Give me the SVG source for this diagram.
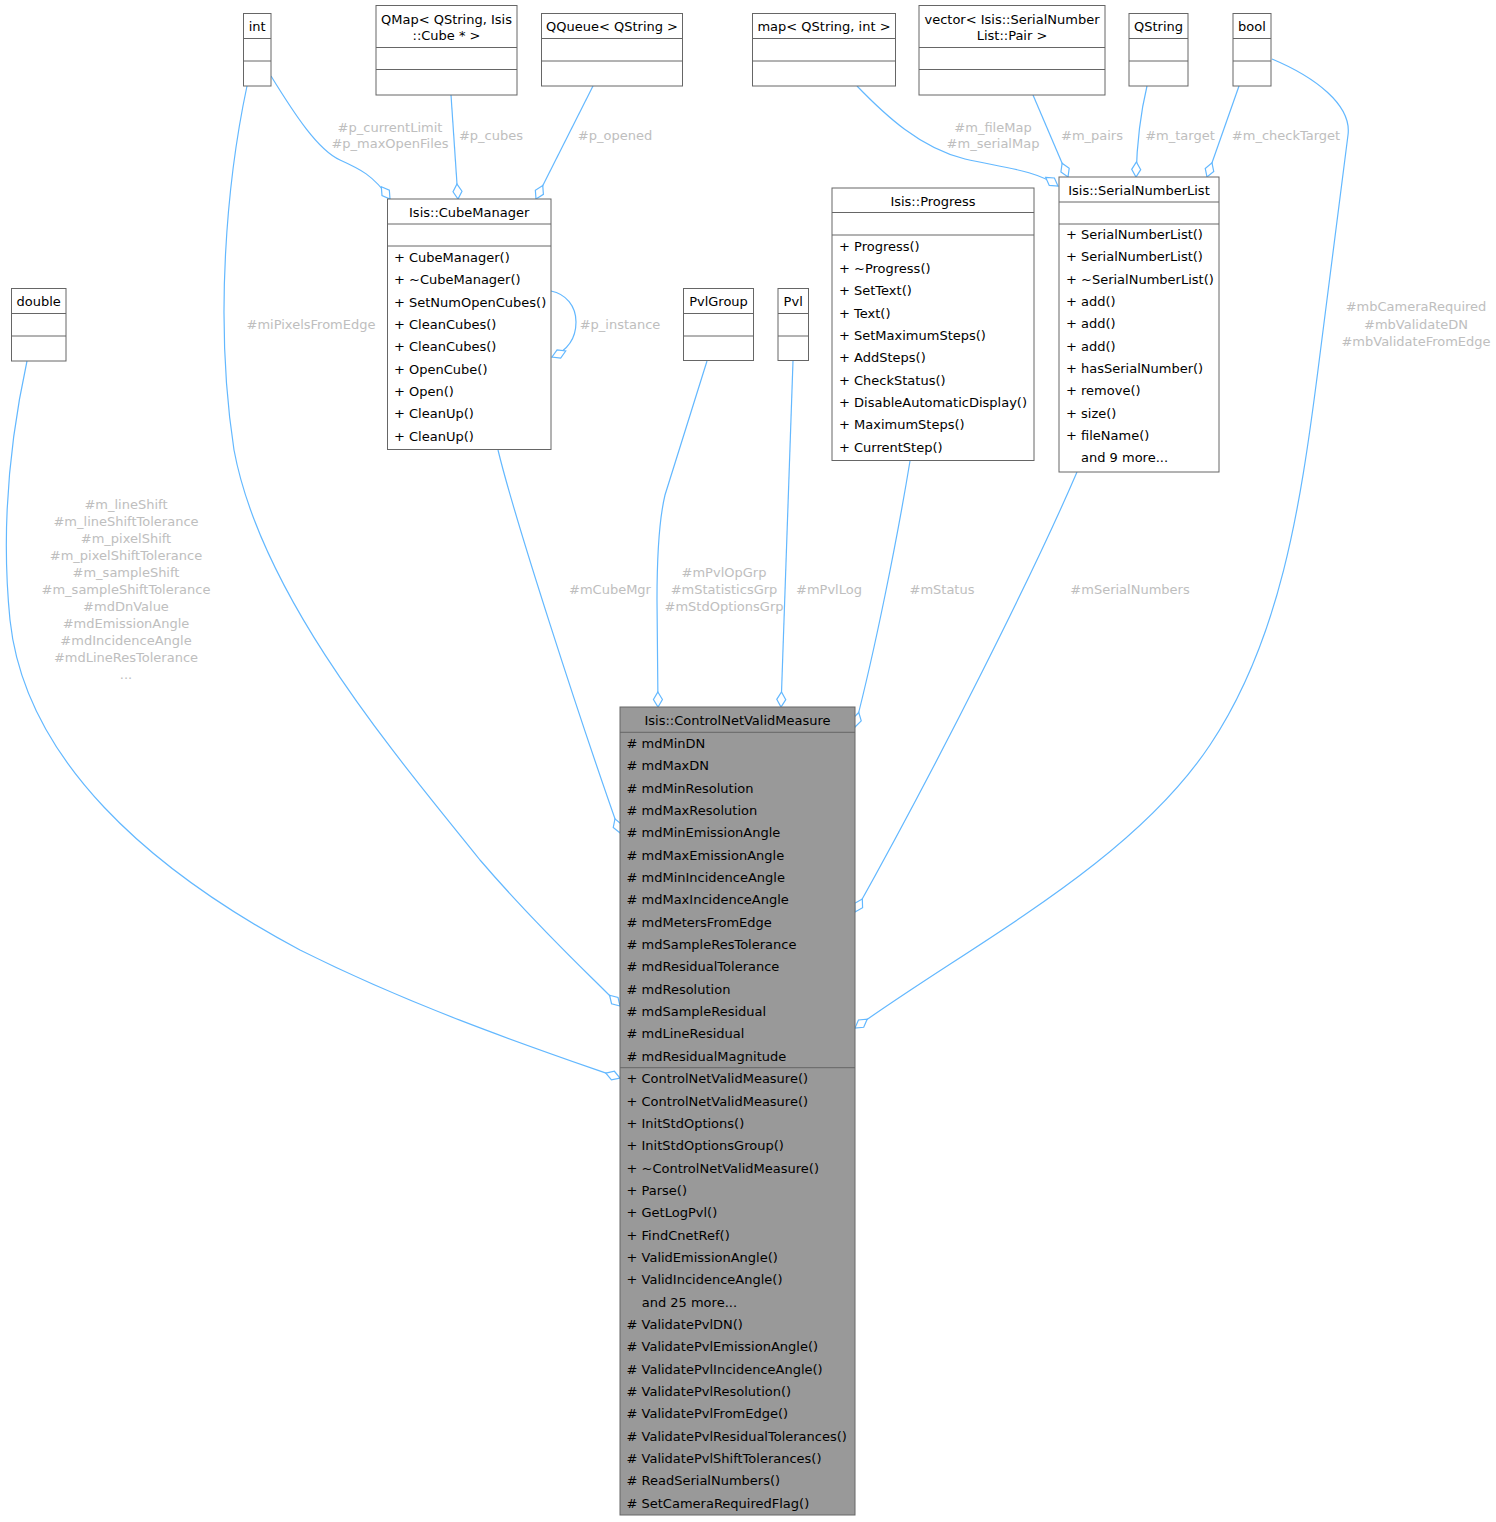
<svg xmlns="http://www.w3.org/2000/svg" width="1496" height="1522" viewBox="0 0 1496 1522">
<style>
text{font-family:"DejaVu Sans",sans-serif;font-size:13px;fill:#000}
.n rect{fill:#fff;stroke:#666;stroke-width:1}
.n line{stroke:#666;stroke-width:1}
.main rect{fill:#999}
.c{text-anchor:middle}
.e path{fill:none;stroke:#63b8ff;stroke-width:1.2;marker-end:url(#od)}
.e text{fill:#bebebe;text-anchor:middle}
</style>
<defs>
<marker id="od" markerUnits="userSpaceOnUse" markerWidth="18" markerHeight="12" refX="15.5" refY="6" orient="auto" viewBox="0 0 18 12" overflow="visible">
<path d="M0.5,6 L8,1.5 L15.5,6 L8,10.5 Z" fill="#fff" stroke="#63b8ff" stroke-width="1.2"/>
</marker>
</defs>
<rect width="1496" height="1522" fill="#fff"/>

<g id="connectors">
<g class="e" id="e-int-cube"><path d="M271,76 C295,115 318,150 340,160 C360,169 373,175 390,199"/><text x="390" y="131.5">#p_currentLimit</text><text x="390" y="148.2">#p_maxOpenFiles</text></g>
<g class="e" id="e-qmap-cube"><path d="M451,95 L458,199"/><text x="491" y="139.5">#p_cubes</text></g>
<g class="e" id="e-qqueue-cube"><path d="M593,86 L536,199"/><text x="615" y="139.5">#p_opened</text></g>
<g class="e" id="e-cube-self"><path d="M551,291 C566,294 576,306 576,322 C576,338 568,350 552,357"/><text x="620" y="328.8">#p_instance</text></g>
<g class="e" id="e-map-snl"><path d="M857,86 C885,115 920,148 965,159 C1005,168 1035,170 1058,186"/><text x="993" y="131.5">#m_fileMap</text><text x="993" y="148.2">#m_serialMap</text></g>
<g class="e" id="e-vector-snl"><path d="M1033,95 L1068,177"/><text x="1092" y="139.5">#m_pairs</text></g>
<g class="e" id="e-qstring-snl"><path d="M1147,86 C1140,115 1137,140 1136,177"/><text x="1180" y="139.5">#m_target</text></g>
<g class="e" id="e-bool-snl"><path d="M1239,86 L1207,177"/><text x="1286" y="139.5">#m_checkTarget</text></g>
<g class="e" id="e-bool-main"><path d="M1272,59 C1315,77 1352,105 1348,135 L1318,370 C1300,510 1280,640 1210,745 C1130,865 970,945 855,1028"/><text x="1416" y="311.2">#mbCameraRequired</text><text x="1416" y="328.5">#mbValidateDN</text><text x="1416" y="345.5">#mbValidateFromEdge</text></g>
<g class="e" id="e-int-main"><path d="M247,86 C227,180 214,320 234,450 C262,600 400,760 480,860 C540,930 590,975 620,1006"/><text x="311" y="328.8">#miPixelsFromEdge</text></g>
<g class="e" id="e-double-main"><path d="M27,361 C12,430 0,520 10,620 C25,760 150,870 300,950 C420,1010 540,1050 620,1078"/>
<text x="126" y="508.5">#m_lineShift</text><text x="126" y="525.8">#m_lineShiftTolerance</text><text x="126" y="542.8">#m_pixelShift</text><text x="126" y="559.8">#m_pixelShiftTolerance</text><text x="126" y="576.8">#m_sampleShift</text><text x="126" y="593.8">#m_sampleShiftTolerance</text><text x="126" y="610.8">#mdDnValue</text><text x="126" y="627.8">#mdEmissionAngle</text><text x="126" y="645">#mdIncidenceAngle</text><text x="126" y="661.8">#mdLineResTolerance</text><text x="126" y="678.5">...</text></g>
<g class="e" id="e-cube-main"><path d="M498,450 C515,520 580,720 620,833"/><text x="610" y="593.8">#mCubeMgr</text></g>
<g class="e" id="e-pvlgroup-main"><path d="M707,361 L665,495 C659,520 657,560 657,600 L658,707"/><text x="724" y="577.2">#mPvlOpGrp</text><text x="724" y="593.8">#mStatisticsGrp</text><text x="724" y="611.2">#mStdOptionsGrp</text></g>
<g class="e" id="e-pvl-main"><path d="M793,361 L781,707"/><text x="829" y="593.8">#mPvlLog</text></g>
<g class="e" id="e-progress-main"><path d="M910,461 C897,540 875,650 855,727"/><text x="942" y="593.8">#mStatus</text></g>
<g class="e" id="e-snl-main"><path d="M1077,472 C1035,570 940,760 855,912"/><text x="1130" y="593.8">#mSerialNumbers</text></g>
</g>

<g class="n" id="node-int"><rect x="243.5" y="13.5" width="27.5" height="72.5"/><line x1="243.5" y1="38.5" x2="271" y2="38.5"/><line x1="243.5" y1="61" x2="271" y2="61"/><text class="c" x="257.2" y="31">int</text></g>
<g class="n" id="node-qmap"><rect x="376" y="5.5" width="141" height="89.5"/><line x1="376" y1="47.5" x2="517" y2="47.5"/><line x1="376" y1="69.5" x2="517" y2="69.5"/><text class="c" x="446.5" y="23.5">QMap&lt; QString, Isis</text><text class="c" x="446.5" y="40.2">::Cube * &gt;</text></g>
<g class="n" id="node-qqueue"><rect x="541.5" y="13.5" width="141" height="72.5"/><line x1="541.5" y1="38.5" x2="682.5" y2="38.5"/><line x1="541.5" y1="61" x2="682.5" y2="61"/><text class="c" x="612" y="31">QQueue&lt; QString &gt;</text></g>
<g class="n" id="node-map"><rect x="752.5" y="13.5" width="143" height="72.5"/><line x1="752.5" y1="38.5" x2="895.5" y2="38.5"/><line x1="752.5" y1="61" x2="895.5" y2="61"/><text class="c" x="824" y="31">map&lt; QString, int &gt;</text></g>
<g class="n" id="node-vector"><rect x="919" y="5.5" width="186" height="89.5"/><line x1="919" y1="47.5" x2="1105" y2="47.5"/><line x1="919" y1="69.5" x2="1105" y2="69.5"/><text class="c" x="1012" y="23.5">vector&lt; Isis::SerialNumber</text><text class="c" x="1012" y="40.2">List::Pair &gt;</text></g>
<g class="n" id="node-qstring"><rect x="1129" y="13.5" width="59" height="72.5"/><line x1="1129" y1="38.5" x2="1188" y2="38.5"/><line x1="1129" y1="61" x2="1188" y2="61"/><text class="c" x="1158.5" y="31">QString</text></g>
<g class="n" id="node-bool"><rect x="1233" y="13.5" width="38" height="72.5"/><line x1="1233" y1="38.5" x2="1271" y2="38.5"/><line x1="1233" y1="61" x2="1271" y2="61"/><text class="c" x="1252" y="31">bool</text></g>
<g class="n" id="node-double"><rect x="11.5" y="288.5" width="54.5" height="72.5"/><line x1="11.5" y1="313.5" x2="66" y2="313.5"/><line x1="11.5" y1="336" x2="66" y2="336"/><text class="c" x="38.7" y="306">double</text></g>
<g class="n" id="node-pvlgroup"><rect x="683.5" y="288.5" width="70" height="72"/><line x1="683.5" y1="313.5" x2="753.5" y2="313.5"/><line x1="683.5" y1="336" x2="753.5" y2="336"/><text class="c" x="718.5" y="306">PvlGroup</text></g>
<g class="n" id="node-pvl"><rect x="778" y="288.5" width="30.5" height="72"/><line x1="778" y1="313.5" x2="808.5" y2="313.5"/><line x1="778" y1="336" x2="808.5" y2="336"/><text class="c" x="793.2" y="306">Pvl</text></g>

<g class="n" id="node-cubemanager"><rect x="387.5" y="199" width="163.5" height="250.5"/><line x1="387.5" y1="224" x2="551" y2="224"/><line x1="387.5" y1="246" x2="551" y2="246"/>
<text class="c" x="469.2" y="217">Isis::CubeManager</text>
<text x="394" y="261.8">+ CubeManager()</text>
<text x="394" y="284.1">+ ~CubeManager()</text>
<text x="394" y="306.5">+ SetNumOpenCubes()</text>
<text x="394" y="328.8">+ CleanCubes()</text>
<text x="394" y="351.1">+ CleanCubes()</text>
<text x="394" y="373.5">+ OpenCube()</text>
<text x="394" y="395.8">+ Open()</text>
<text x="394" y="418.1">+ CleanUp()</text>
<text x="394" y="440.5">+ CleanUp()</text>
</g>

<g class="n" id="node-progress"><rect x="832" y="188" width="202" height="272.5"/><line x1="832" y1="212.5" x2="1034" y2="212.5"/><line x1="832" y1="235" x2="1034" y2="235"/>
<text class="c" x="933" y="206">Isis::Progress</text>
<text x="839" y="250.5">+ Progress()</text>
<text x="839" y="272.8">+ ~Progress()</text>
<text x="839" y="295.2">+ SetText()</text>
<text x="839" y="317.5">+ Text()</text>
<text x="839" y="339.8">+ SetMaximumSteps()</text>
<text x="839" y="362.2">+ AddSteps()</text>
<text x="839" y="384.5">+ CheckStatus()</text>
<text x="839" y="406.8">+ DisableAutomaticDisplay()</text>
<text x="839" y="429.2">+ MaximumSteps()</text>
<text x="839" y="451.5">+ CurrentStep()</text>
</g>

<g class="n" id="node-serialnumberlist"><rect x="1059" y="177" width="160" height="295"/><line x1="1059" y1="202" x2="1219" y2="202"/><line x1="1059" y1="224" x2="1219" y2="224"/>
<text class="c" x="1139" y="194.5">Isis::SerialNumberList</text>
<text x="1066" y="238.8">+ SerialNumberList()</text>
<text x="1066" y="261.1">+ SerialNumberList()</text>
<text x="1066" y="283.5">+ ~SerialNumberList()</text>
<text x="1066" y="305.8">+ add()</text>
<text x="1066" y="328.1">+ add()</text>
<text x="1066" y="350.5">+ add()</text>
<text x="1066" y="372.8">+ hasSerialNumber()</text>
<text x="1066" y="395.1">+ remove()</text>
<text x="1066" y="417.5">+ size()</text>
<text x="1066" y="439.8">+ fileName()</text>
<text x="1081" y="462.1">and 9 more...</text>
</g>

<g class="n main" id="node-controlnetvalidmeasure"><rect x="620" y="707" width="235" height="808"/><line x1="620" y1="732.3" x2="855" y2="732.3"/><line x1="620" y1="1067.7" x2="855" y2="1067.7"/>
<text class="c" x="737.5" y="725">Isis::ControlNetValidMeasure</text>
<text x="626.5" y="747.8"># mdMinDN</text>
<text x="626.5" y="770.1"># mdMaxDN</text>
<text x="626.5" y="792.5"># mdMinResolution</text>
<text x="626.5" y="814.8"># mdMaxResolution</text>
<text x="626.5" y="837.1"># mdMinEmissionAngle</text>
<text x="626.5" y="859.5"># mdMaxEmissionAngle</text>
<text x="626.5" y="881.8"># mdMinIncidenceAngle</text>
<text x="626.5" y="904.1"># mdMaxIncidenceAngle</text>
<text x="626.5" y="926.5"># mdMetersFromEdge</text>
<text x="626.5" y="948.8"># mdSampleResTolerance</text>
<text x="626.5" y="971.1"># mdResidualTolerance</text>
<text x="626.5" y="993.5"># mdResolution</text>
<text x="626.5" y="1015.8"># mdSampleResidual</text>
<text x="626.5" y="1038.1"># mdLineResidual</text>
<text x="626.5" y="1060.5"># mdResidualMagnitude</text>
<text x="626.5" y="1083.3">+ ControlNetValidMeasure()</text>
<text x="626.5" y="1105.6">+ ControlNetValidMeasure()</text>
<text x="626.5" y="1128">+ InitStdOptions()</text>
<text x="626.5" y="1150.3">+ InitStdOptionsGroup()</text>
<text x="626.5" y="1172.6">+ ~ControlNetValidMeasure()</text>
<text x="626.5" y="1195">+ Parse()</text>
<text x="626.5" y="1217.3">+ GetLogPvl()</text>
<text x="626.5" y="1239.6">+ FindCnetRef()</text>
<text x="626.5" y="1262">+ ValidEmissionAngle()</text>
<text x="626.5" y="1284.3">+ ValidIncidenceAngle()</text>
<text x="641.7" y="1306.6">and 25 more...</text>
<text x="626.5" y="1329"># ValidatePvlDN()</text>
<text x="626.5" y="1351.3"># ValidatePvlEmissionAngle()</text>
<text x="626.5" y="1373.6"># ValidatePvlIncidenceAngle()</text>
<text x="626.5" y="1396"># ValidatePvlResolution()</text>
<text x="626.5" y="1418.3"># ValidatePvlFromEdge()</text>
<text x="626.5" y="1440.6"># ValidatePvlResidualTolerances()</text>
<text x="626.5" y="1463"># ValidatePvlShiftTolerances()</text>
<text x="626.5" y="1485.3"># ReadSerialNumbers()</text>
<text x="626.5" y="1507.6"># SetCameraRequiredFlag()</text>
</g>
</svg>
